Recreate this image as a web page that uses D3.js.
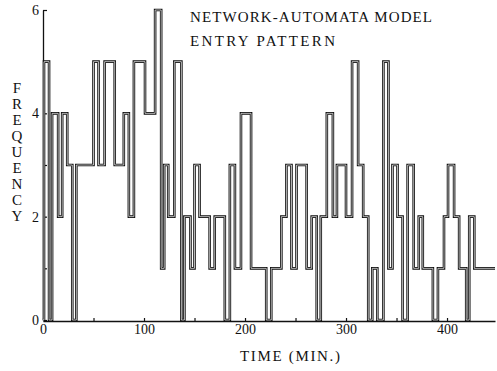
<!DOCTYPE html>
<html>
<head>
<meta charset="utf-8">
<script src="https://cdn.jsdelivr.net/npm/d3@7"></script>
<style>
  body { margin: 0; background: #fff; }
  svg { display: block; }
  text { font-family: "Liberation Serif", "DejaVu Serif", serif; fill: #111; }
</style>
</head>
<body>
<svg id="chart" width="497" height="371"></svg>
<script>
// step start times (min) and the frequency held from each one
var stepTimes = [0, 1, 6, 9, 15, 19, 24, 29, 33, 50, 55, 61, 71, 80, 85, 90, 101, 111, 117, 120,
    124, 130, 137, 140, 146, 150, 155, 165, 170, 180, 185, 190, 196, 206, 221, 226, 236, 241, 246,
    251, 261, 266, 271, 275, 281, 287, 291, 300, 306, 312, 317, 322, 326, 331, 337, 342, 346, 351,
    356, 361, 367, 372, 376, 386, 391, 397, 401, 407, 412, 419, 422, 427];
var stepValues = [0, 5, 0, 4, 2, 4, 3, 0, 3, 5, 3, 5, 3, 4, 2, 5, 4, 6, 1, 3,
    2, 5, 0, 2, 1, 3, 2, 1, 2, 0, 3, 1, 4, 1, 0, 1, 2, 3, 1,
    3, 1, 2, 0, 2, 4, 2, 3, 2, 5, 3, 2, 0, 1, 0, 5, 1, 3, 2,
    0, 3, 1, 2, 1, 0, 1, 2, 3, 2, 1, 0, 2, 1];
var endTime = 447.5;

var yTicks = [0, 1, 2, 3, 4, 5, 6];
var xTicks = [0, 50, 100, 150, 200, 250, 300, 350, 400];
var titleLines = ["NETWORK-AUTOMATA MODEL", "ENTRY PATTERN"];
var yLabel = "FREQUENCY";
var xLabel = "TIME (MIN.)";

var svg = d3.select("#chart");

var x = d3.scaleLinear().domain([0, endTime]).range([43, 495]);
var y = d3.scaleLinear().domain([0, 6]).range([320, 10]);

var pts = stepTimes.map(function (t, i) { return [t, stepValues[i]]; });
pts.push([endTime, stepValues[stepValues.length - 1]]);

var line = d3.line()
    .x(function (d) { return x(d[0]); })
    .y(function (d) { return y(d[1]); })
    .curve(d3.curveStepAfter);

// axes
var yAxis = d3.axisLeft(y)
    .tickValues(yTicks)
    .tickSize(-4)
    .tickSizeOuter(0)
    .tickPadding(4)
    .tickFormat(function (d) { return d % 2 === 0 ? d : ""; });

var xAxis = d3.axisBottom(x)
    .tickValues(xTicks)
    .tickSize(-3)
    .tickSizeOuter(0)
    .tickPadding(3)
    .tickFormat(function (d) { return d % 100 === 0 ? d : ""; });

var gx = svg.append("g")
    .attr("transform", "translate(0," + (y(0) + 1) + ")")
    .call(xAxis);
var gy = svg.append("g")
    .attr("transform", "translate(" + x(0) + ",0)")
    .call(yAxis);

[gx, gy].forEach(function (g) {
    g.select(".domain").attr("stroke", "#111").attr("stroke-width", 1.3);
    g.selectAll(".tick line").attr("stroke", "#111").attr("stroke-width", 1.2);
    g.selectAll(".tick text").attr("font-size", 14).attr("fill", "#111")
        .style("font-family", "Liberation Serif, serif");
});

// the plotter drew each stroke twice, so give it a hollow double look
svg.append("path")
    .datum(pts)
    .attr("fill", "none")
    .attr("stroke", "#111")
    .attr("stroke-width", 2.6)
    .attr("d", line);
svg.append("path")
    .datum(pts)
    .attr("fill", "none")
    .attr("stroke", "#fff")
    .attr("stroke-width", 0.7)
    .attr("d", line);

// title
svg.append("g").selectAll("text")
    .data(titleLines)
    .join("text")
    .attr("x", 190)
    .attr("y", function (d, i) { return 22 + i * 24; })
    .attr("font-size", 15)
    .attr("textLength", function (d, i) { return i === 0 ? 242 : 145; })
    .attr("lengthAdjust", "spacing")
    .text(function (d) { return d; });

// vertical stacked y label
svg.append("g").selectAll("text")
    .data(yLabel.split(""))
    .join("text")
    .attr("x", 17)
    .attr("y", function (d, i) { return 93 + i * 16; })
    .attr("text-anchor", "middle")
    .attr("font-size", 15)
    .text(function (d) { return d; });

svg.append("text")
    .attr("x", 240)
    .attr("y", 361)
    .attr("font-size", 15)
    .attr("textLength", 100)
    .attr("lengthAdjust", "spacing")
    .text(xLabel);
</script>
</body>
</html>
